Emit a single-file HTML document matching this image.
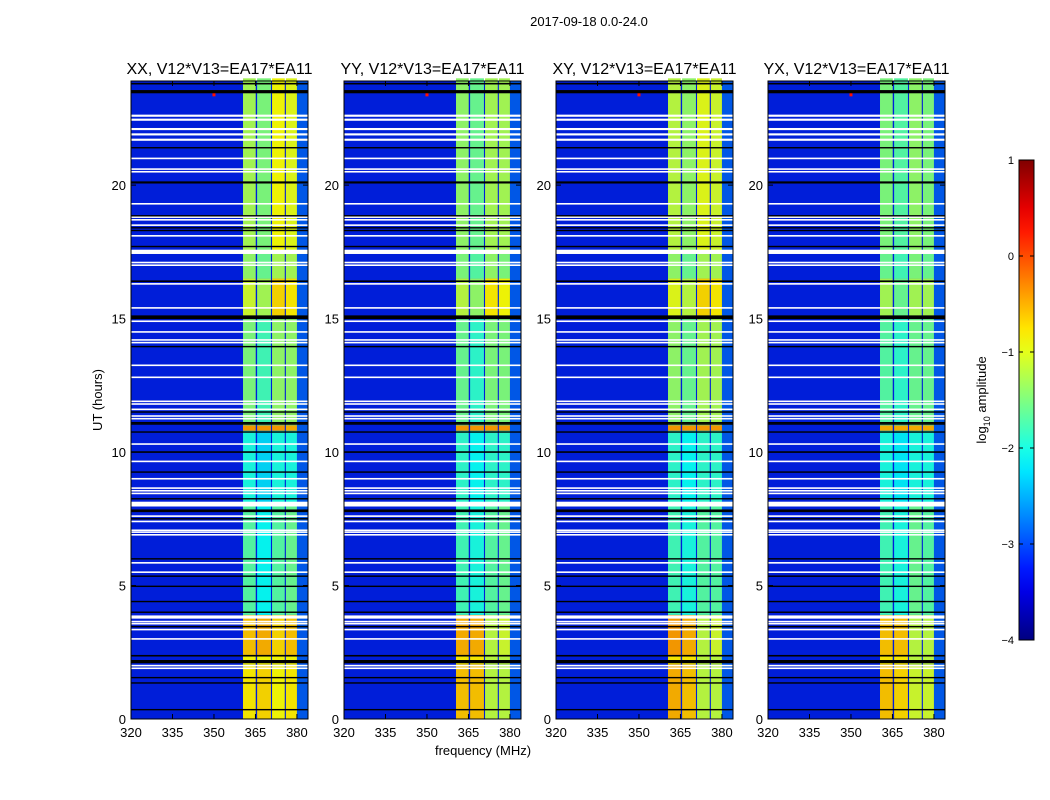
<!DOCTYPE html>
<html><head><meta charset="utf-8"><style>
body{margin:0;background:#fff;}
svg{display:block;font-family:"Liberation Sans",sans-serif;}
</style></head><body>
<svg id="fig" width="1050" height="800">
<rect width="1050" height="800" fill="#fff"/>
<text x="589" y="26" font-size="13" text-anchor="middle">2017-09-18 0.0-24.0</text>
<text transform="translate(102,400) rotate(-90)" font-size="13" text-anchor="middle">UT (hours)</text>
<text x="483" y="755" font-size="13" text-anchor="middle">frequency (MHz)</text>
<g id="panels"></g>
<g id="cbar"></g>
</svg>
<script>
const panelTitles = ["XX, V12*V13=EA17*EA11","YY, V12*V13=EA17*EA11","XY, V12*V13=EA17*EA11","YX, V12*V13=EA17*EA11"];
const xTicks = [320,335,350,365,380];
const yTicks = [0,5,10,15,20];
const subbandLo = [360.5,365.6,371,376];
const subbandHi = [365.1,370.6,375.6,380];
const segStart = [0,2.05,2.4,3.9,8.0,10.8,11.0,15.0,16.5,17.5];
const segEnd   = [2.05,2.4,3.9,8.0,10.8,11.0,15.0,16.5,17.5,24];
const levelsXX = [[-0.8,-0.7,-0.9,-0.8],[-0.9,-0.9,-0.9,-0.9],[-0.6,-0.5,-0.7,-0.6],[-1.7,-2.1,-1.7,-1.6],[-2.0,-2.3,-2.0,-2.0],[-0.4,-0.4,-0.4,-0.5],[-1.5,-1.8,-1.4,-1.4],[-1.1,-1.3,-0.7,-0.8],[-1.4,-1.6,-1.3,-1.3],[-1.3,-1.5,-0.9,-1.0]];
const levelsYY = [[-0.6,-0.6,-1.2,-1.2],[-0.8,-0.8,-1.2,-1.2],[-0.5,-0.5,-1.2,-1.1],[-1.8,-2.0,-1.7,-1.6],[-1.9,-2.1,-1.9,-1.9],[-0.4,-0.4,-0.4,-0.4],[-1.6,-1.9,-1.5,-1.5],[-1.2,-1.4,-0.8,-0.9],[-1.5,-1.7,-1.4,-1.5],[-1.4,-1.6,-1.3,-1.3]];
const levelsXY = [[-0.5,-0.6,-1.2,-1.2],[-0.8,-0.8,-1.2,-1.2],[-0.4,-0.5,-1.2,-1.1],[-1.8,-2.0,-1.7,-1.7],[-1.9,-2.1,-1.9,-1.9],[-0.4,-0.4,-0.4,-0.4],[-1.4,-1.6,-1.3,-1.3],[-1.0,-1.2,-0.7,-0.8],[-1.4,-1.6,-1.3,-1.3],[-1.2,-1.4,-1.0,-1.1]];
const levelsYX = [[-0.6,-0.7,-1.1,-1.1],[-0.8,-0.8,-1.2,-1.2],[-0.6,-0.6,-1.2,-1.2],[-1.8,-2.0,-1.6,-1.7],[-2.0,-2.2,-2.0,-2.0],[-0.5,-0.5,-0.5,-0.5],[-1.7,-1.9,-1.6,-1.6],[-1.3,-1.6,-1.3,-1.3],[-1.6,-1.8,-1.5,-1.6],[-1.5,-1.7,-1.4,-1.5]];
const bgLevel = -3.2;
const tailLevel = -2.9;
const whiteLines = [22.6,22.45,22.1,21.9,21.7,21.0,20.6,20.5,19.3,18.8,18.7,18.5,18.1,17.5,17.1,17.0,16.3,15.4,14.9,14.5,14.2,14.1,13.25,12.8,11.9,11.8,11.6,11.35,11.25,10.3,9.65,9.0,8.65,8.55,8.45,8.05,7.6,7.4,7.07,7.0,6.9,5.85,5.5,3.82,3.65,3.57,3.35,3.0,2.0,1.9];
const whiteWidths = [0.08,0.08,0.08,0.08,0.08,0.06,0.06,0.06,0.06,0.06,0.06,0.06,0.06,0.16,0.06,0.06,0.06,0.06,0.06,0.06,0.06,0.06,0.06,0.06,0.06,0.06,0.06,0.06,0.06,0.06,0.06,0.06,0.06,0.06,0.06,0.18,0.06,0.06,0.06,0.06,0.06,0.06,0.06,0.12,0.06,0.06,0.06,0.06,0.06,0.06];
const blackLines = [23.8,23.5,21.4,20.1,18.85,18.4,18.3,17.7,16.4,15.05,13.95,11.5,11.1,11.05,10.75,10.0,9.25,8.25,7.8,7.5,6.0,5.35,4.97,4.4,4.0,3.46,2.37,2.15,1.55,1.35,0.35];
const blackWidths = [0.06,0.12,0.05,0.08,0.05,0.05,0.05,0.05,0.06,0.14,0.05,0.05,0.05,0.05,0.05,0.06,0.05,0.05,0.1,0.05,0.05,0.05,0.05,0.05,0.05,0.05,0.06,0.12,0.05,0.05,0.05];
const spotFreq = [350];
const spotHour = [23.4];
const spotLevel = [0.3];

const panelLeft=[131,344,556,768], PW=177, PT=81, PB=719;
const xMin=320,xMax=384,yMin=0,yMax=23.9;
const NS="http://www.w3.org/2000/svg";
function jet(v,k){k=k||1;let t=Math.max(0,Math.min(1,(v+4)/5));const c=x=>Math.round(255*k*Math.max(0,Math.min(1,1.5-Math.abs(x))));return `rgb(${c(4*t-3)},${c(4*t-2)},${c(4*t-1)})`;}
function el(tag,attrs,parent){const e=document.createElementNS(NS,tag);for(const k in attrs)e.setAttribute(k,attrs[k]);parent.appendChild(e);return e;}
const allLevels=[levelsXX,levelsYY,levelsXY,levelsYX];
const gp=document.getElementById('panels');
panelTitles.forEach((title,p)=>{
  const L=panelLeft[p];
  const xs=f=>L+(f-xMin)/(xMax-xMin)*PW;
  const ys=h=>PB-(h-yMin)/(yMax-yMin)*(PB-PT);
  const g=el('g',{},gp);
  
  
  const bg=el('rect',{x:L,y:PT,width:PW,height:PB-PT,fill:jet(bgLevel,0.85)},g);
  
  
  const tl=el('rect',{x:xs(380),y:PT,width:xs(xMax)-xs(380),height:PB-PT,fill:jet(tailLevel,0.9)},g);
  
  
  const lv=allLevels[p];
  segStart.forEach((s,i)=>{
    subbandLo.forEach((lo,j)=>{
      const r=el('rect',{x:xs(lo),y:ys(segEnd[i]),width:xs(subbandHi[j])-xs(lo),height:ys(s)-ys(segEnd[i]),fill:jet(lv[i][j],0.95)},g);
      
      
    });
  });
  spotFreq.forEach((f,i)=>{
    const r=el('rect',{x:xs(f)-1.5,y:ys(spotHour[i])-2,width:3,height:4,fill:jet(spotLevel[i])},g);
    
    
  });
  whiteLines.forEach((h,i)=>{
    const hh=Math.max(1.6,whiteWidths[i]*(PB-PT)/yMax);
    const r=el('rect',{x:L,y:ys(h)-hh/2,width:PW,height:hh,fill:'#fff'},g);
    
    
  });
  blackLines.forEach((h,i)=>{
    const hh=Math.max(1.4,blackWidths[i]*(PB-PT)/yMax);
    const r=el('rect',{x:L,y:ys(h)-hh/2,width:PW,height:hh,fill:'#000'},g);
    
    
  });
  const fr=el('rect',{x:L,y:PT,width:PW,height:PB-PT,fill:'none',stroke:'#000','stroke-width':1},g);
  
  
  const t=el('text',{x:L+PW/2,y:74,'font-size':16,'text-anchor':'middle'},g);t.textContent=title;
  
  
  xTicks.forEach(v=>{
    const x=xs(v);
    el('line',{x1:x,x2:x,y1:PB,y2:PB-5,stroke:'#000'},g);
    el('line',{x1:x,x2:x,y1:PT,y2:PT+5,stroke:'#000'},g);
    const tx=el('text',{x:x,y:PB+18,'font-size':13,'text-anchor':'middle'},g);tx.textContent=v;
    
    
  });
  yTicks.forEach(v=>{
    const y=ys(v);
    el('line',{x1:L,x2:L+5,y1:y,y2:y,stroke:'#000'},g);
    el('line',{x1:L+PW,x2:L+PW-5,y1:y,y2:y,stroke:'#000'},g);
    const ty=el('text',{x:L-5,y:y+5,'font-size':13,'text-anchor':'end'},g);ty.textContent=v;
    
    
  });
});
const cbTicks=[1,0,-1,-2,-3,-4];
const cb=document.getElementById('cbar');


const defs=el('defs',{},cb);
const grad=el('linearGradient',{id:'jg',x1:0,y1:1,x2:0,y2:0},defs);
for(let i=0;i<=20;i++){el('stop',{offset:i/20,'stop-color':jet(-4+5*i/20)},grad);}
const CT=160,CB=640,CX=1019,CW=15;
const cs=v=>CB-(v+4)/5*(CB-CT);
el('rect',{x:CX,y:CT,width:CW,height:CB-CT,fill:'url(#jg)',stroke:'#000'},cb);
cbTicks.forEach(v=>{
  const y=cs(v);
  el('line',{x1:CX,x2:CX+4,y1:y,y2:y,stroke:'#000'},cb);
  el('line',{x1:CX+CW,x2:CX+CW-4,y1:y,y2:y,stroke:'#000'},cb);
  const t=el('text',{x:CX-5,y:y+4,'font-size':11,'text-anchor':'end'},cb);t.textContent=(v<0?'\u2212'+(-v):v);
  
  
});
const cl=el('text',{transform:'translate(986,400) rotate(-90)','font-size':13,'text-anchor':'middle'},cb);
cl.innerHTML='log<tspan font-size="9" dy="4">10</tspan><tspan dy="-4"> amplitude</tspan>';


</script>
</body></html>
